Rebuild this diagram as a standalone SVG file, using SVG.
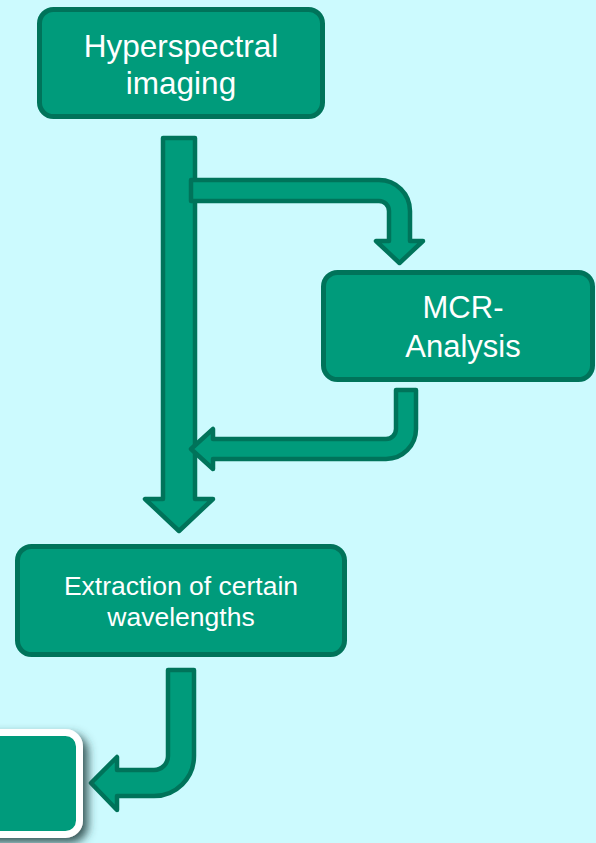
<svg xmlns="http://www.w3.org/2000/svg" width="596" height="843" viewBox="0 0 596 843">
  <defs>
    <style>
      .node { fill: #009B7B; stroke: #00735A; stroke-width: 5; }
      .arrow { fill: #009B7B; stroke: #00735A; stroke-width: 4.5; stroke-linejoin: round; }
      .label { font-family: "Liberation Sans", Arial, sans-serif; fill: #FFFFFF; text-anchor: middle; }
    </style>
    <filter id="shadow" x="-50%" y="-50%" width="200%" height="200%">
      <feDropShadow dx="5" dy="5" stdDeviation="5" flood-color="#2A4444" flood-opacity="0.9"/>
    </filter>
  </defs>
  <rect x="0" y="0" width="596" height="843" fill="#CCFAFE"/>

  <g id="connectors">
    <path class="arrow" d="M163,138 H195 V499 H213 L179,531 L145,499 H163 Z"/>
    <path class="arrow" d="M191,180 H379 A31,31 0 0 1 410,211 V241 H423 L399.5,263 L376,241 H389 V211 A10,10 0 0 0 379,201 H191 Z"/>
    <path class="arrow" d="M396,390 H416 V429 A30,30 0 0 1 386,459 H213 V469 L191,449 L213,429 V439 H386 A10,10 0 0 0 396,429 Z"/>
    <path class="arrow" d="M168,670 H194 V756 A40,40 0 0 1 154,796 H117 V810 L91,783 L117,757 V770 H154 A14,14 0 0 0 168,756 Z"/>
  </g>

  <g id="node-hyperspectral">
    <rect class="node" x="39.5" y="9.5" width="283" height="107" rx="14"/>
    <text class="label" x="181" y="57" font-size="31.5">Hyperspectral</text>
    <text class="label" x="181" y="94" font-size="31.5">imaging</text>
  </g>

  <g id="node-mcr">
    <rect class="node" x="323.5" y="272.5" width="269" height="107" rx="14"/>
    <text class="label" x="463" y="318" font-size="31">MCR-</text>
    <text class="label" x="463" y="357" font-size="31">Analysis</text>
  </g>

  <g id="node-extraction">
    <rect class="node" x="17.5" y="546.5" width="327" height="108" rx="14"/>
    <text class="label" x="181" y="595" font-size="26.5">Extraction of certain</text>
    <text class="label" x="181" y="626" font-size="26.5">wavelengths</text>
  </g>

  <g id="node-result">
    <rect x="-100" y="732.5" width="179.5" height="102" rx="14" fill="#009B7B" stroke="#FFFFFF" stroke-width="7" filter="url(#shadow)"/>
  </g>
</svg>
